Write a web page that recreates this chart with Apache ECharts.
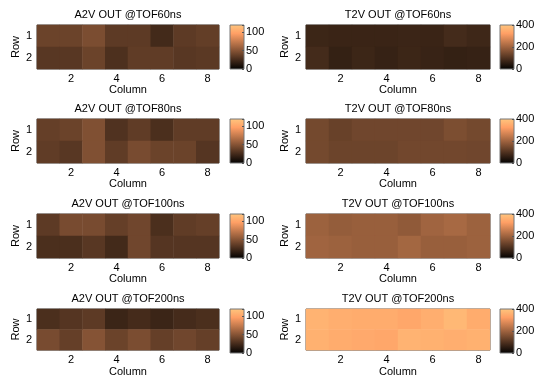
<!DOCTYPE html>
<html><head><meta charset="utf-8">
<script src="https://cdn.jsdelivr.net/npm/echarts@6/dist/echarts.min.js"></script>
<style>html,body{margin:0;padding:0;background:#fff}#c{width:543px;height:378px}</style>
</head><body><div id="c"></div>
<script>
const columns = ['1','2','3','4','5','6','7','8'];
const rows = ['1','2'];
const a2v60  = [[40,40,46,35,35,25,35,37],[33,33,40,29,36,36,33,34]];
const a2v80  = [[38,40,48,30,36,28,36,36],[36,33,48,36,45,40,40,32]];
const a2v100 = [[35,45,45,38,42,28,36,38],[28,28,33,25,42,32,32,32]];
const a2v200 = [[28,32,35,22,26,22,26,28],[45,38,50,40,46,38,42,38]];
const t2v60  = [[75,72,72,72,74,72,85,78],[85,65,75,68,75,70,65,68]];
const t2v80  = [[145,130,140,140,140,140,155,145],[145,135,135,135,142,142,142,140]];
const t2v100 = [[195,185,190,190,180,200,210,195],[200,195,190,190,205,190,190,195]];
const t2v200 = [[360,350,345,345,335,350,370,345],[355,345,340,335,360,355,350,355]];
const titlesA2V = ['A2V OUT @TOF60ns','A2V OUT @TOF80ns','A2V OUT @TOF100ns','A2V OUT @TOF200ns'];
const titlesT2V = ['T2V OUT @TOF60ns','T2V OUT @TOF80ns','T2V OUT @TOF100ns','T2V OUT @TOF200ns'];
const a2vMax = 120, a2vStep = 50;
const t2vMax = 400, t2vStep = 200;

const copper = ['#000000','rgb(64,40,25)','rgb(128,80,51)','rgb(191,120,76)','rgb(255,159,101)','rgb(255,199,127)'];
const FONT = 'Liberation Sans, Arial, sans-serif';
const chart = echarts.init(document.getElementById('c'));

const panels = [];
[a2v60,a2v80,a2v100,a2v200].forEach((d,i)=>panels.push({data:d,title:titlesA2V[i],col:0,row:i,max:a2vMax,step:a2vStep}));
[t2v60,t2v80,t2v100,t2v200].forEach((d,i)=>panels.push({data:d,title:titlesT2V[i],col:1,row:i,max:t2vMax,step:t2vStep}));

const tops = [25,119,214,309];
const H = 44;
const plotLeft = [37,306], plotW = [182,184];
const cbLeft = [230,500], cbW = 14;

const grid=[], xAxis=[], yAxis=[], series=[], title=[];
const gradient = new echarts.graphic.LinearGradient(0,1,0,0,[
  {offset:0,color:'#000000'},{offset:0.8,color:'rgb(255,159,101)'},{offset:1,color:'rgb(255,199,127)'}]);
const a2vIdx=[], t2vIdx=[];
const txt = {fontFamily:FONT,fontSize:11,color:'#000'};
panels.forEach((p,k)=>{
  const gi = grid.length;
  grid.push({left:plotLeft[p.col],top:tops[p.row],width:plotW[p.col],height:H,show:true,borderColor:'#555',borderWidth:1,backgroundColor:'transparent'});
  xAxis.push({type:'category',gridIndex:gi,data:columns,
    name:'Column',nameLocation:'middle',nameGap:14,nameTextStyle:txt,
    axisLine:{show:false},splitLine:{show:false},
    axisTick:{show:true,inside:true,length:3,alignWithLabel:true,interval:(i)=>i%2===1,lineStyle:{color:'#333'}},
    axisLabel:Object.assign({interval:(i)=>i%2===1,margin:4},txt)});
  yAxis.push({type:'category',gridIndex:gi,data:rows,inverse:true,
    name:'Row',nameLocation:'middle',nameGap:16,nameRotate:90,nameTextStyle:txt,
    axisLine:{show:false},splitLine:{show:false},
    axisTick:{show:true,inside:true,length:3,alignWithLabel:true,lineStyle:{color:'#333'}},
    axisLabel:Object.assign({margin:5},txt)});
  const pts=[];
  p.data.forEach((r,ri)=>r.forEach((v,ci)=>pts.push([ci,ri,v])));
  (p.col===0?a2vIdx:t2vIdx).push(series.length);
  series.push({type:'heatmap',xAxisIndex:gi,yAxisIndex:gi,data:pts,itemStyle:{borderWidth:0},emphasis:{disabled:true},progressive:0});
  title.push({text:p.title,left:plotLeft[p.col]+plotW[p.col]/2,top:tops[p.row]-16,textAlign:'center',padding:0,
    textStyle:{fontFamily:FONT,fontSize:11,fontWeight:'normal',color:'#000'}});
  // colorbar
  const ci = grid.length;
  grid.push({left:cbLeft[p.col],top:tops[p.row],width:cbW,height:H,show:true,borderColor:'#777',borderWidth:1,backgroundColor:gradient});
  xAxis.push({type:'category',gridIndex:ci,data:[''],show:false});
  yAxis.push({type:'value',gridIndex:ci,position:'right',min:0,max:p.max,interval:p.step,
    axisLine:{show:false},splitLine:{show:false},
    axisTick:{show:true,inside:true,length:2,lineStyle:{color:'#555'}},
    axisLabel:Object.assign({margin:2,formatter:(v)=> (v%p.step===0? String(v):'')},txt)});
});

chart.setOption({
  backgroundColor:'#fff',
  animation:false,
  title, grid, xAxis, yAxis, series,
  visualMap:[
    {type:'continuous',show:false,min:0,max:a2vMax,seriesIndex:a2vIdx,inRange:{color:copper}},
    {type:'continuous',show:false,min:0,max:t2vMax,seriesIndex:t2vIdx,inRange:{color:copper}}
  ]
});
</script></body></html>
